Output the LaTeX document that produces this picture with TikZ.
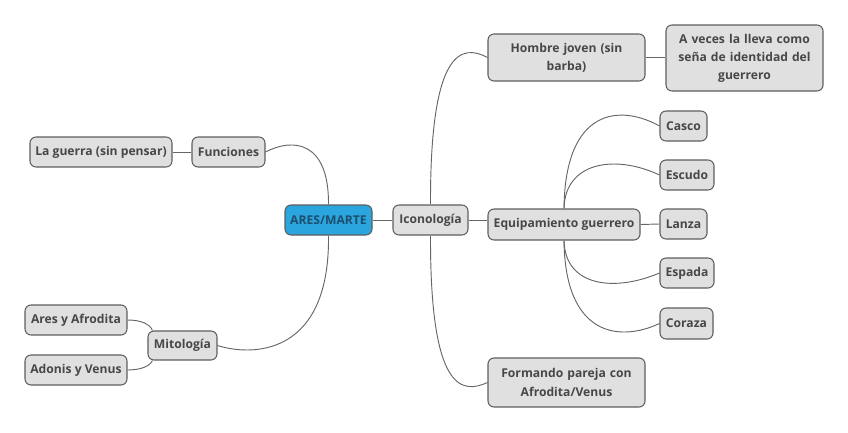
\documentclass[tikz,border=0pt]{standalone}
\usepackage{fontspec}
\setmainfont{Open Sans}
\usetikzlibrary{calc}
\definecolor{boxfill}{HTML}{E0E0E0}
\definecolor{boxline}{HTML}{5E5E5E}
\definecolor{txt}{HTML}{474747}
\definecolor{aresfill}{HTML}{2AA5DE}
\definecolor{arestxt}{HTML}{1E4E6E}
\definecolor{linkc}{HTML}{666666}
\tikzset{
  topic/.style={draw=boxline, line width=0.8pt, fill=boxfill, rounded corners=4.5pt,
    text=txt, font=\bfseries\fontsize{9.1}{13.6}\selectfont, align=center, inner sep=0pt},
  central/.style={topic, fill=aresfill, text=arestxt, draw=boxline},
  link/.style={draw=linkc, line width=0.7pt}
}
\begin{document}
\begin{tikzpicture}[x=0.75pt,y=-0.75pt]
\useasboundingbox (0,0) rectangle (848,432);
\node[central, minimum width=65.25pt, minimum height=22.5pt] (ares) at (328.5,220) {ARES/MARTE};
\node[topic, minimum width=56.25pt, minimum height=22.5pt] (icono) at (430.5,220) {Iconología};
\node[topic, minimum width=54.75pt, minimum height=22.5pt] (func) at (228.5,152) {Funciones};
\node[topic, minimum width=106.5pt, minimum height=22.5pt] (guerra) at (101,152) {La guerra (sin pensar)};
\node[topic, minimum width=51.75pt, minimum height=21.75pt] (mito) at (182.5,345.5) {Mitología};
\node[topic, minimum width=76.5pt, minimum height=22.5pt] (aresaf) at (76,320) {Ares y Afrodita};
\node[topic, minimum width=76.5pt, minimum height=22.5pt] (adonis) at (76,370) {Adonis y Venus};
\node[topic, minimum width=117.75pt, minimum height=35.25pt, text width=110pt] (hombre) at (566.5,57.5) {Hombre joven (sin\\barba)};
\node[topic, minimum width=117.75pt, minimum height=49.5pt, text width=114pt] (aveces) at (744.5,58) {A veces la lleva como\\seña de identidad del\\guerrero};
\node[topic, minimum width=114pt, minimum height=23.25pt] (equip) at (564,224.5) {Equipamiento guerrero};
\node[topic, minimum width=35.25pt, minimum height=22.5pt] (casco) at (683.5,126) {Casco};
\node[topic, minimum width=40.5pt, minimum height=22.5pt] (escudo) at (687,175) {Escudo};
\node[topic, minimum width=35.25pt, minimum height=22.5pt] (lanza) at (683.5,224) {Lanza};
\node[topic, minimum width=40.5pt, minimum height=22.5pt] (espada) at (687,273) {Espada};
\node[topic, minimum width=39.75pt, minimum height=23.25pt] (coraza) at (686.5,323.5) {Coraza};
\node[topic, minimum width=117.75pt, minimum height=36.75pt, text width=114pt] (formando) at (566.5,382.5) {Formando pareja con\\Afrodita/Venus};

\draw[link] (ares.east) -- (icono.west);
\draw[link] (guerra.east) -- (func.west);
\draw[link] (icono.east) -- (icono.east -| equip.west);
\draw[link] (equip.east) -- (lanza.west);
\draw[link] (hombre.east) -- (hombre.east -| aveces.west);
\draw[link] (ares.north) .. controls (329,140) and (292,138) .. (func.east);
\draw[link] (ares.south) .. controls (330,358) and (250,356) .. (mito.east);
\draw[link] (icono.north) .. controls (430,48) and (462,44) .. (hombre.west);
\draw[link] (icono.south) .. controls (430,392) and (462,394) .. (formando.west);
\draw[link] (equip.north) .. controls (565,108) and (620,104) .. (casco.west);
\draw[link] (equip.north) .. controls (565,162) and (615,154) .. (escudo.west);
\draw[link] (equip.south) .. controls (565,287) and (615,292) .. (espada.west);
\draw[link] (equip.south) .. controls (565,337) and (620,342) .. (coraza.west);
\draw[link] (aresaf.east) .. controls (141,320) and (150,324) .. ($(mito.north west)+(5,0)$);
\draw[link] (adonis.east) .. controls (141,370) and (150,366) .. ($(mito.south west)+(5,0)$);
\end{tikzpicture}
\end{document}
